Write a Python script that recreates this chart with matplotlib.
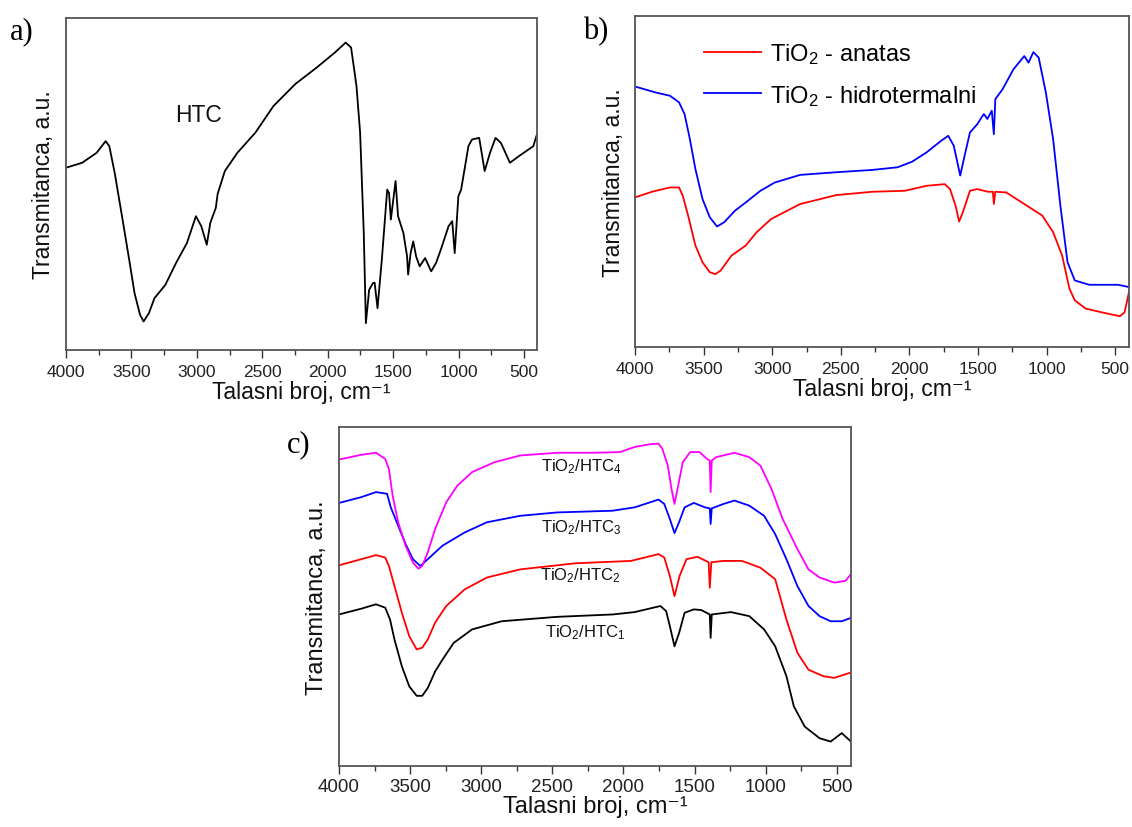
import matplotlib
matplotlib.use("Agg")
import matplotlib.pyplot as plt
from matplotlib.ticker import MultipleLocator

plt.rcParams['font.family'] = ['Liberation Sans', 'DejaVu Sans']
plt.rcParams['mathtext.default'] = 'regular'

# ---------------- data (y in % of axis height) ----------------
# Panel a: HTC
htc_wn = [4000, 3876, 3766, 3697, 3669, 3628, 3572, 3517, 3476, 3434, 3407, 3366, 3324, 3241,
          3159, 3076, 3007, 2966, 2924, 2897, 2855, 2841, 2786, 2690, 2552, 2414, 2248, 2083,
          1945, 1862, 1821, 1780, 1752, 1724, 1708, 1683, 1655, 1641, 1619, 1586, 1545, 1531,
          1517, 1481, 1462, 1421, 1393, 1385, 1366, 1346, 1324, 1297, 1255, 1209, 1172, 1131,
          1076, 1048, 1029, 1001, 980, 924, 897, 842, 800, 759, 717, 676, 607, 538, 483, 428, 400]
htc_y = [54.9, 56.4, 59.4, 62.9, 61.4, 53.4, 40.3, 27.2, 17.1, 10.6, 8.6, 11.1, 15.6, 19.6,
         26.2, 32.2, 40.3, 37.3, 31.7, 38.3, 42.8, 47.0, 53.9, 59.4, 65.5, 73.5, 80.1, 85.1,
         89.6, 92.6, 91.1, 79.6, 65.5, 35.2, 8.1, 18.1, 20.1, 20.3, 12.6, 27.2, 48.3, 47.3,
         39.3, 50.9, 40.3, 35.2, 28.2, 22.7, 29.2, 32.7, 28.2, 25.2, 27.7, 23.7, 26.2, 30.7,
         37.3, 38.8, 29.2, 46.3, 48.3, 61.4, 63.4, 63.9, 53.9, 59.4, 63.9, 62.4, 56.4, 58.4,
         59.9, 61.4, 65.0]

# Panel b: TiO2 - hidrotermalni (blue), TiO2 - anatas (red)
hidro_wn = [4000, 3850, 3745, 3679, 3639, 3600, 3560, 3508, 3455, 3402, 3350, 3271, 3192, 3086,
            2981, 2796, 2533, 2270, 2086, 1980, 1875, 1769, 1717, 1677, 1651, 1630, 1598, 1559,
            1506, 1458, 1432, 1400, 1385, 1374, 1321, 1242, 1163, 1132, 1097, 1058, 1006, 953,
            900, 848, 795, 690, 479, 400]
hidro_y = [78.7, 76.9, 75.9, 73.9, 70.4, 62.8, 53.8, 44.7, 39.2, 36.4, 37.7, 41.2, 43.7, 47.2,
           49.7, 52.0, 52.8, 53.5, 54.3, 56.0, 58.8, 62.3, 63.8, 60.8, 55.8, 51.8, 57.8, 64.8,
           67.3, 70.4, 68.9, 71.4, 64.3, 74.9, 77.9, 83.9, 87.9, 85.9, 89.1, 87.4, 76.9, 62.8,
           42.7, 25.6, 20.1, 18.8, 18.8, 18.1]
anatas_wn = [4000, 3876, 3745, 3679, 3652, 3613, 3560, 3508, 3455, 3415, 3376, 3297, 3192, 3113,
             3007, 2796, 2533, 2270, 2033, 1875, 1743, 1704, 1664, 1638, 1611, 1559, 1506, 1427,
             1392, 1385, 1374, 1295, 1137, 1032, 953, 887, 834, 795, 716, 558, 466, 432, 400]
anatas_y = [45.2, 46.9, 48.2, 48.2, 45.7, 39.7, 30.7, 25.6, 22.6, 22.0, 23.1, 27.6, 30.7, 34.7,
            38.7, 43.2, 45.9, 46.9, 47.2, 48.7, 49.2, 47.7, 42.7, 37.9, 40.7, 47.2, 47.7, 46.9,
            46.9, 43.2, 46.9, 46.7, 42.5, 39.7, 34.7, 27.6, 17.6, 14.1, 11.6, 10.1, 9.3, 10.5, 16.6]

# Panel c: TiO2/HTC1..4
htc4_wn = [4000, 3844, 3740, 3675, 3649, 3623, 3584, 3532, 3480, 3441, 3415, 3376, 3324, 3246,
           3168, 3064, 2908, 2726, 2466, 2206, 2025, 1921, 1817, 1753, 1727, 1688, 1662, 1641,
           1615, 1583, 1531, 1465, 1413, 1393, 1387, 1379, 1349, 1219, 1115, 1037, 959, 881,
           777, 699, 621, 517, 439, 400]
htc4_y = [90.4, 91.8, 92.4, 90.6, 87.6, 79.8, 71.9, 65.0, 60.0, 58.2, 59.0, 63.0, 69.9, 77.8,
          82.7, 86.7, 89.6, 91.6, 92.4, 92.4, 92.6, 94.1, 94.9, 95.1, 93.6, 88.6, 81.7, 77.3,
          82.7, 89.6, 92.6, 92.6, 90.6, 90.1, 80.8, 90.1, 91.1, 92.4, 91.1, 88.6, 81.7, 72.9,
          64.0, 58.0, 55.6, 54.1, 54.6, 56.6]
htc3_wn = [4000, 3844, 3740, 3662, 3636, 3584, 3532, 3480, 3428, 3376, 3272, 3116, 2960, 2726,
           2466, 2077, 1921, 1753, 1713, 1674, 1641, 1609, 1570, 1505, 1427, 1393, 1387, 1379,
           1297, 1219, 1115, 1011, 933, 854, 777, 699, 621, 543, 465, 400]
htc3_y = [77.6, 79.3, 80.8, 80.3, 76.3, 70.9, 65.5, 61.0, 59.0, 61.0, 65.0, 68.9, 71.9, 73.8,
          74.8, 75.3, 76.3, 78.6, 77.3, 72.9, 68.7, 71.9, 76.3, 77.6, 76.3, 76.0, 71.4, 76.0,
          77.3, 78.3, 76.8, 73.8, 68.4, 61.0, 53.1, 47.2, 44.2, 42.7, 42.7, 43.7]
htc2_wn = [4000, 3844, 3740, 3675, 3649, 3610, 3558, 3506, 3454, 3415, 3376, 3324, 3246, 3116,
           2960, 2726, 2336, 1947, 1753, 1713, 1674, 1641, 1605, 1557, 1479, 1401, 1393, 1382,
           1297, 1167, 1037, 933, 854, 777, 699, 595, 517, 400]
htc2_y = [59.2, 61.0, 62.2, 61.5, 59.0, 53.1, 45.2, 38.3, 34.4, 34.9, 37.3, 42.3, 47.2, 52.1,
          55.6, 58.0, 59.8, 60.5, 62.5, 61.5, 56.1, 50.1, 56.1, 61.0, 61.7, 60.1, 52.6, 60.1,
          60.5, 60.5, 58.5, 55.1, 43.2, 33.4, 28.4, 26.5, 26.0, 27.6]
htc1_wn = [4000, 3844, 3740, 3675, 3641, 3610, 3558, 3506, 3454, 3415, 3376, 3324, 3272, 3194,
           3064, 2856, 2466, 2077, 1921, 1740, 1700, 1674, 1641, 1609, 1570, 1505, 1453, 1393,
           1387, 1379, 1245, 1115, 1011, 933, 854, 802, 725, 621, 543, 465, 400]
htc1_y = [44.7, 46.4, 47.7, 46.7, 43.2, 37.3, 29.4, 23.5, 20.7, 20.7, 23.0, 27.9, 31.4, 36.3,
          40.3, 42.7, 44.0, 44.7, 45.4, 47.2, 45.7, 41.3, 35.3, 39.2, 45.2, 46.2, 46.0, 44.7,
          37.8, 44.7, 45.4, 44.2, 40.3, 35.3, 26.5, 17.6, 11.6, 8.2, 7.2, 9.7, 7.2]

xticks = [4000, 3500, 3000, 2500, 2000, 1500, 1000, 500]
xlabel = 'Talasni broj, cm\u207b\u00b9'
ylabel = 'Transmitanca, a.u.'

fig = plt.figure(figsize=(11.32, 8.28), dpi=100)

def style(ax, tsize, lsize, ylpad, xlpad, tpad):
    ax.set_xlim(4000, 400)
    ax.set_ylim(0, 100)
    ax.set_xticks(xticks)
    ax.xaxis.set_minor_locator(MultipleLocator(250))
    ax.set_yticks([])
    ax.tick_params(axis='x', which='major', direction='out', length=6, width=1,
                   labelsize=tsize, pad=tpad, colors='#333333', labelcolor='#222222')
    ax.tick_params(axis='x', which='minor', direction='out', length=3.5, width=1, colors='#333333')
    ax.tick_params(top=False, right=False, left=False)
    for s in ax.spines.values():
        s.set_color('#555555')
        s.set_linewidth(1.3)
    ax.set_xlabel(xlabel, fontsize=lsize, labelpad=xlpad, color='#111111',
                  family=['Liberation Sans', 'DejaVu Sans'])
    ax.set_ylabel(ylabel, fontsize=lsize, labelpad=ylpad, color='#111111')

lw = 1.3
# Panel a
axa = fig.add_axes([66/1132, 1-351/828, 471/1132, 332/828])
axa.plot(htc_wn, htc_y, color='black', lw=lw)
axa.text(2990, 70.9, 'HTC', fontsize=16.5, ha='center', va='center', color='#111111')
style(axa, 12.5, 16.5, 8, 1, 4)

# Panel b
axb = fig.add_axes([635/1132, 1-348/828, 494/1132, 331/828])
axb.plot(anatas_wn, anatas_y, color='#ff0000', lw=lw, label='TiO$_2$ - anatas')
axb.plot(hidro_wn, hidro_y, color='#0000ff', lw=lw, label='TiO$_2$ - hidrotermalni')
axb.legend(loc='upper left', bbox_to_anchor=(0.14, 0.925), frameon=False, fontsize=17,
           handlelength=2.4, handletextpad=0.4, labelspacing=0.72, borderpad=0, borderaxespad=0)
style(axb, 12.5, 16.5, 7, 1, 4)

# Panel c
axc = fig.add_axes([339/1132, 1-767/828, 512/1132, 339/828])
axc.plot(htc1_wn, htc1_y, color='black', lw=lw)
axc.plot(htc2_wn, htc2_y, color='#ff0000', lw=lw)
axc.plot(htc3_wn, htc3_y, color='#0000ff', lw=lw)
axc.plot(htc4_wn, htc4_y, color='#ff00ff', lw=lw)
axc.text(2297, 88.5, 'TiO$_2$/HTC$_4$', fontsize=12, ha='center', va='center', color='#111111')
axc.text(2297, 70.6, 'TiO$_2$/HTC$_3$', fontsize=12, ha='center', va='center', color='#111111')
axc.text(2305, 56.4, 'TiO$_2$/HTC$_2$', fontsize=12, ha='center', va='center', color='#111111')
axc.text(2270, 39.6, 'TiO$_2$/HTC$_1$', fontsize=12, ha='center', va='center', color='#111111')
style(axc, 13.5, 17, 8, 0, 3)

# panel letters
fig.text(10/1132, 1-32/828, 'a)', fontsize=22, family='Liberation Serif', va='center', ha='left')
fig.text(583/1132, 1-32/828, 'b)', fontsize=22, family='Liberation Serif', va='center', ha='left')
fig.text(287/1132, 1-445/828, 'c)', fontsize=22, family='Liberation Serif', va='center', ha='left')

fig.savefig('out.png', dpi=100)
